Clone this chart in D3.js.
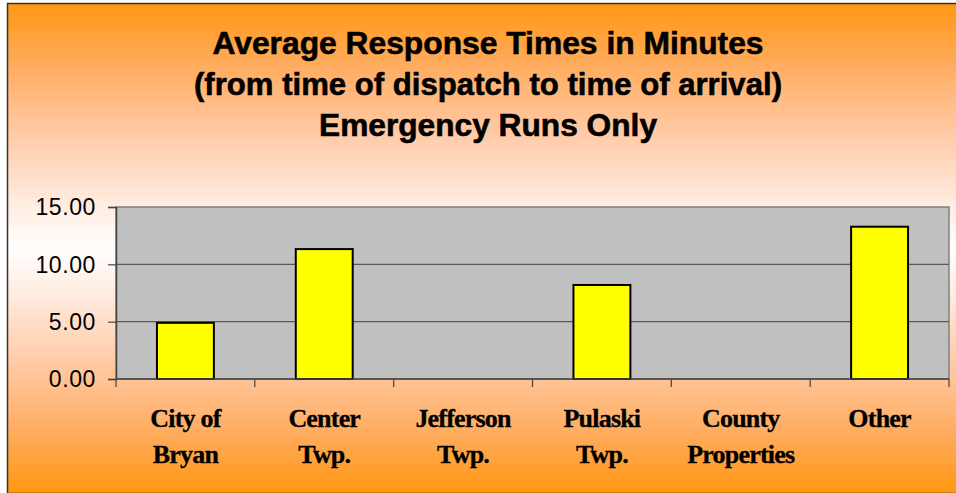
<!DOCTYPE html>
<html>
<head>
<meta charset="utf-8">
<script src="https://cdn.jsdelivr.net/npm/d3@7"></script>
<style>
  html, body { margin: 0; padding: 0; background: #fff; overflow: hidden; }
</style>
</head>
<body>
<div id="chart"></div>
<script>
// chart values
var categories = ["City of Bryan", "Center Twp.", "Jefferson Twp.", "Pulaski Twp.", "County Properties", "Other"];
var labelLines = [["City of", "Bryan"], ["Center", "Twp."], ["Jefferson", "Twp."], ["Pulaski", "Twp."], ["County", "Properties"], ["Other"]];
var minutes = [4.9, 11.33, 0, 8.2, 0, 13.28];
var yTicks = [0, 5, 10, 15];
var titleLines = ["Average Response Times in Minutes", "(from time of dispatch to time of arrival)", "Emergency Runs Only"];

var W = 956, H = 493;
var margin = {top: 207, right: 7, bottom: 114, left: 116};
var width = W - margin.left - margin.right;
var height = H - margin.top - margin.bottom;

var svg = d3.select("#chart").append("svg")
    .attr("width", W)
    .attr("height", H);

// background gradient, orange at edges, white in the middle
var grad = svg.append("defs").append("linearGradient")
    .attr("id", "bg")
    .attr("x1", 0).attr("y1", 0).attr("x2", 0).attr("y2", 1);
[[0, "#ff9710"], [0.12, "#ffab5c"], [0.27, "#ffcba8"], [0.4, "#ffeadd"], [0.5, "#ffffff"],
 [0.6, "#ffeadd"], [0.73, "#ffcba8"], [0.88, "#ffab5c"], [1, "#ff9710"]].forEach(function(s) {
    grad.append("stop").attr("offset", s[0]).attr("stop-color", s[1]);
});

svg.append("rect")
    .attr("x", 7.5).attr("y", 3.5)
    .attr("width", 960).attr("height", 490)
    .attr("fill", "url(#bg)")
    .attr("stroke", "#333")
    .attr("stroke-width", 1.5);

// title
svg.append("g").selectAll("text")
    .data(titleLines)
    .enter().append("text")
    .attr("x", 488)
    .attr("y", function(d, i) { return 54 + i * 41; })
    .attr("text-anchor", "middle")
    .attr("font-family", "Liberation Sans, Arial, sans-serif")
    .attr("font-weight", "bold")
    .attr("font-size", 32)
    .attr("stroke", "#000")
    .attr("stroke-width", 0.6)
    .attr("textLength", function(d, i) { return [551, 588, 338][i]; })
    .attr("lengthAdjust", "spacingAndGlyphs")
    .text(function(d) { return d; });

var g = svg.append("g")
    .attr("transform", "translate(" + margin.left + "," + margin.top + ")");

var x = d3.scaleBand().domain(categories).range([0, width]).paddingInner(0.59).paddingOuter(0.295);
var xb = d3.scaleBand().domain(categories).range([0, width]);
var y = d3.scaleLinear().domain([0, 15]).range([height, 0]);

// plot area
g.append("rect")
    .attr("width", width).attr("height", height)
    .attr("fill", "#c0c0c0")
    .attr("stroke", "#808080")
    .attr("stroke-width", 1.5);

// grid lines
g.selectAll(".grid")
    .data(yTicks.slice(1, 3))
    .enter().append("line")
    .attr("class", "grid")
    .attr("x1", 0).attr("x2", width)
    .attr("y1", function(d) { return y(d); })
    .attr("y2", function(d) { return y(d); })
    .attr("stroke", "#5a5a5a")
    .attr("stroke-width", 1.2);

// bars
g.selectAll(".bar")
    .data(minutes)
    .enter().append("rect")
    .attr("class", "bar")
    .attr("x", function(d, i) { return x(categories[i]); })
    .attr("y", function(d) { return y(d); })
    .attr("width", x.bandwidth())
    .attr("height", function(d) { return height - y(d); })
    .attr("fill", "#ffff00")
    .attr("stroke", "#000")
    .attr("stroke-width", 2)
    .style("display", function(d) { return d > 0 ? null : "none"; });

// y axis
var yAxis = g.append("g")
    .call(d3.axisLeft(y).tickValues(yTicks).tickSize(8).tickPadding(12).tickFormat(d3.format(".2f")));
yAxis.select(".domain").attr("stroke", "#444").attr("stroke-width", 1.5);
yAxis.selectAll(".tick line").attr("stroke", "#444").attr("stroke-width", 1.2);
yAxis.selectAll("text")
    .attr("font-family", "Liberation Sans, Arial, sans-serif")
    .attr("font-size", 23)
    .attr("letter-spacing", 0.6)
    .attr("fill", "#000")
    .attr("dy", "0.34em");

// x axis, ticks between categories
var bounds = categories.map(function(c) { return xb(c); }).concat([width]);
var xAxis = g.append("g").attr("transform", "translate(0," + height + ")");
xAxis.append("line")
    .attr("x1", 0).attr("x2", width)
    .attr("stroke", "#444").attr("stroke-width", 1.5);
xAxis.selectAll(".xt")
    .data(bounds)
    .enter().append("line")
    .attr("class", "xt")
    .attr("x1", function(d) { return d; }).attr("x2", function(d) { return d; })
    .attr("y1", 0).attr("y2", 8)
    .attr("stroke", "#444").attr("stroke-width", 1.2);

var labels = xAxis.selectAll(".xl")
    .data(categories)
    .enter().append("text")
    .attr("class", "xl")
    .attr("x", function(c) { return xb(c) + xb.bandwidth() / 2; })
    .attr("y", 48)
    .attr("text-anchor", "middle")
    .attr("font-family", "Liberation Serif, Times New Roman, serif")
    .attr("font-weight", "bold")
    .attr("font-size", 26)
    .attr("letter-spacing", -0.8)
    .attr("stroke", "#000")
    .attr("stroke-width", 0.3)
    .attr("fill", "#000");
labels.selectAll("tspan")
    .data(function(c, i) { return labelLines[i]; })
    .enter().append("tspan")
    .attr("x", function() { var p = this.parentNode; return p.getAttribute("x"); })
    .attr("dy", function(d, i) { return i === 0 ? 0 : 36; })
    .text(function(d) { return d; });
</script>
</body>
</html>
